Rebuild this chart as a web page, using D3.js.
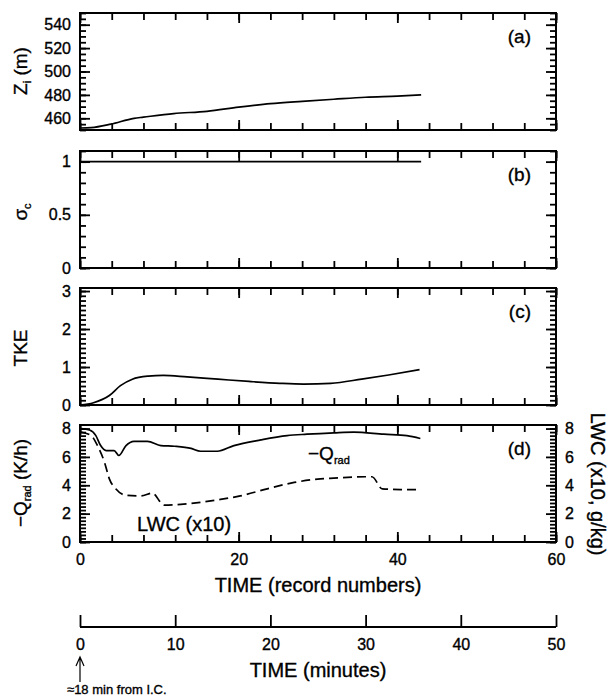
<!DOCTYPE html>
<html>
<head>
<meta charset="utf-8">
<script src="https://cdn.jsdelivr.net/npm/d3@7"></script>
<style>
  body { margin: 0; background: #fff; }
  svg { font-family: "Liberation Sans", Arial, Helvetica, sans-serif; }
  text { fill: #000; stroke: #000; stroke-width: 0.35px; }
  .tick text { font-size: 16px; }
</style>
</head>
<body>
<div id="chart"></div>
<script>
// time axis is in record numbers (1 record = 50 s)
const ziTime = [0, 1.4, 3.9, 6.8, 8, 11.8, 16, 20, 24, 28, 32, 36, 40, 43];
const ziValues = [451.7, 452, 455, 460, 461, 464, 466, 469.5, 472.5, 474.5, 476.3, 478, 479, 480];

const sigmaTime = [0, 43];
const sigmaValues = [1, 1];

const tkeTime = [0, 1.7, 3.7, 5.1, 6.6, 8.6, 10.5, 13.5, 17.4, 21.3, 25.2, 28.2, 31.6, 35.5, 38.9, 42.8];
const tkeValues = [0, 0.06, 0.25, 0.51, 0.68, 0.76, 0.78, 0.74, 0.68, 0.62, 0.57, 0.55, 0.57, 0.68, 0.79, 0.93];

const qradTime = [0.1, 1.2, 2.0, 2.6, 3.3, 4.3, 4.9, 5.8, 6.8, 8.5, 10.2, 11.9, 14.0, 15.2, 17.3, 19.4, 22.8, 26.1, 28.6, 32.0, 34.5, 38.3, 41.2, 42.9];
const qradValues = [8.0, 7.9, 7.5, 6.8, 6.45, 6.45, 6.1, 6.8, 7.1, 7.1, 6.8, 6.75, 6.6, 6.4, 6.4, 6.8, 7.2, 7.5, 7.6, 7.7, 7.75, 7.6, 7.5, 7.3];

const lwcTime = [0.1, 1.4, 2.2, 3.1, 3.7, 4.5, 5.8, 7.7, 9.1, 10.6, 12.7, 15.2, 17.7, 20.2, 23.6, 27.0, 30.3, 32.0, 36.2, 36.8, 38.1, 40.4, 42.7];
const lwcValues = [7.75, 7.5, 6.8, 5.6, 4.45, 3.75, 3.3, 3.25, 3.45, 2.6, 2.65, 2.8, 3.0, 3.25, 3.75, 4.2, 4.45, 4.5, 4.6, 4.6, 3.75, 3.7, 3.7];

const recordTicks = [0, 20, 40, 60];
const minuteTicks = [0, 10, 20, 30, 40, 50];
const ziTicks = [460, 480, 500, 520, 540];
const sigmaTicks = [0, 0.5, 1];
const tkeTicks = [0, 1, 2, 3];
const qradTicks = [0, 2, 4, 6, 8];
const lwcTicks = [0, 2, 4, 6, 8];

const width = 610, height = 698;
const margin = { left: 80, right: 54 };
const plotW = width - margin.left - margin.right;
const panelH = 117;
const xL = margin.left, xR = margin.left + plotW;
const tickW = 1.8;
const tickColor = '#000';

const svg = d3.select('#chart').append('svg')
  .attr('width', width).attr('height', height);

const x = d3.scaleLinear().domain([0, 60]).range([xL, xR]);
const xMinor = d3.range(0, 61, 4);

const panels = [
  { tag: '(a)', top: 13, domain: [450, 550], major: ziTicks, minor: d3.range(450, 551, 5),
    series: [{ t: ziTime, v: ziValues }] },
  { tag: '(b)', top: 151, domain: [0, 1.1], major: sigmaTicks, minor: d3.range(0, 1.101, 0.1),
    series: [{ t: sigmaTime, v: sigmaValues }] },
  { tag: '(c)', top: 288, domain: [0, 3.08], major: tkeTicks, minor: d3.range(0, 3.001, 0.125),
    series: [{ t: tkeTime, v: tkeValues }] },
  { tag: '(d)', top: 425, domain: [0, 8.25], major: qradTicks, minor: d3.range(0, 8.001, 0.25),
    series: [{ t: qradTime, v: qradValues }, { t: lwcTime, v: lwcValues, dash: '9,5' }] }
];

// inward tick marks, drawn with d3 axes and thickened
function tickAxis(g, axis, tx, ty) {
  const a = g.append('g').attr('transform', `translate(${tx},${ty})`).call(axis.tickFormat(''));
  a.select('.domain').remove();
  a.selectAll('.tick line').attr('stroke', tickColor).attr('stroke-width', tickW);
  a.selectAll('.tick text').remove();
}

panels.forEach(function(p, i) {
  const y = d3.scaleLinear().domain(p.domain).range([p.top + panelH, p.top]);
  const last = i === panels.length - 1;
  const bottom = p.top + panelH;
  const g = svg.append('g');

  tickAxis(g, d3.axisLeft(y).tickValues(p.minor).tickSize(-6), xL, 0);
  tickAxis(g, d3.axisRight(y).tickValues(p.minor).tickSize(-6), xR, 0);
  tickAxis(g, d3.axisLeft(y).tickValues(p.major).tickSize(-10), xL, 0);
  tickAxis(g, d3.axisRight(y).tickValues(p.major).tickSize(-10), xR, 0);
  tickAxis(g, d3.axisTop(x).tickValues(xMinor).tickSize(-7), 0, p.top);
  tickAxis(g, d3.axisBottom(x).tickValues(xMinor).tickSize(-7), 0, bottom);
  tickAxis(g, d3.axisTop(x).tickValues(recordTicks).tickSize(-10), 0, p.top);
  tickAxis(g, d3.axisBottom(x).tickValues(recordTicks).tickSize(-10), 0, bottom);

  g.append('rect')
    .attr('x', xL).attr('y', p.top)
    .attr('width', plotW).attr('height', panelH)
    .attr('fill', 'none').attr('stroke', '#000').attr('stroke-width', 2);

  // tick labels
  const labels = g.append('g');
  labels.append('g').attr('transform', `translate(${xL},0)`)
    .call(d3.axisLeft(y).tickValues(p.major).tickSize(0).tickPadding(9).tickFormat(d3.format('')));
  if (last) {
    labels.append('g').attr('transform', `translate(${xR},0)`)
      .call(d3.axisRight(y).tickValues(lwcTicks).tickSize(0).tickPadding(9).tickFormat(d3.format('')));
    labels.append('g').attr('transform', `translate(0,${bottom})`)
      .call(d3.axisBottom(x).tickValues(recordTicks).tickSize(0).tickPadding(12).tickFormat(d3.format('')));
  }
  labels.selectAll('.domain').remove();
  labels.selectAll('.tick line').remove();
  labels.selectAll('.tick text').attr('font-family', null).attr('font-size', null);

  const line = d3.line()
    .x(function(d) { return x(d[0]); })
    .y(function(d) { return y(d[1]); })
    .curve(d3.curveMonotoneX);

  p.series.forEach(function(s) {
    g.append('path')
      .datum(d3.zip(s.t, s.v))
      .attr('d', line)
      .attr('fill', 'none')
      .attr('stroke', '#000')
      .attr('stroke-width', 1.7)
      .attr('stroke-dasharray', s.dash || null);
  });

  g.append('text')
    .attr('x', 531).attr('y', p.top + 30)
    .attr('text-anchor', 'end').attr('font-size', 19)
    .text(p.tag);
});

// left axis titles (rotated)
function leftTitle(cy, build) {
  const t = svg.append('text')
    .attr('transform', `translate(27,${cy}) rotate(-90)`)
    .attr('text-anchor', 'middle').attr('font-size', 19);
  build(t);
}
leftTitle(71, function(t) {
  t.append('tspan').text('Z');
  t.append('tspan').attr('font-size', 11).attr('dy', 4).text('i');
  t.append('tspan').attr('dy', -4).text(' (m)');
});
leftTitle(212, function(t) {
  t.append('tspan').text('σ');
  t.append('tspan').attr('font-size', 11).attr('dy', 4).text('c');
});
leftTitle(348, function(t) { t.text('TKE'); });
leftTitle(483, function(t) {
  t.append('tspan').text('−Q');
  t.append('tspan').attr('font-size', 11).attr('dy', 4).text('rad');
  t.append('tspan').attr('dy', -4).text(' (K/h)');
});

// right axis title for LWC
svg.append('text')
  .attr('transform', `translate(591,484) rotate(90)`)
  .attr('text-anchor', 'middle').attr('font-size', 20)
  .text('LWC (x10, g/kg)');

// in-panel labels for panel (d)
const qLabel = svg.append('text').attr('x', 308).attr('y', 460).attr('font-size', 19);
qLabel.append('tspan').text('−Q');
qLabel.append('tspan').attr('font-size', 11).attr('dy', 4).text('rad');
svg.append('text').attr('x', 137).attr('y', 531).attr('font-size', 20).text('LWC (x10)');

svg.append('text')
  .attr('x', x(30)).attr('y', 592)
  .attr('text-anchor', 'middle').attr('font-size', 20)
  .text('TIME (record numbers)');

// second time axis in minutes
const xm = d3.scaleLinear().domain([0, 50]).range(x.range());
const mg = svg.append('g');
mg.append('path').attr('d', `M${xm(0)},627H${xm(50)}`)
  .attr('stroke', '#000').attr('stroke-width', 2).attr('fill', 'none');
tickAxis(mg, d3.axisBottom(xm).tickValues(minuteTicks).tickSize(-12), 0, 627);
const mAxis = mg.append('g').attr('transform', 'translate(0,627)')
  .call(d3.axisBottom(xm).tickValues(minuteTicks).tickSize(0).tickPadding(12));
mAxis.select('.domain').remove();
mAxis.selectAll('.tick line').remove();
mAxis.selectAll('.tick text').attr('font-family', null).attr('font-size', null);

svg.append('text')
  .attr('x', x(30)).attr('y', 677)
  .attr('text-anchor', 'middle').attr('font-size', 20)
  .text('TIME (minutes)');

// arrow marking the start
svg.append('path')
  .attr('d', `M${xm(0)},682V658M${xm(0) - 4},666L${xm(0)},657L${xm(0) + 4},666`)
  .attr('fill', 'none').attr('stroke', '#000').attr('stroke-width', 1.2);
svg.append('text')
  .attr('x', 67).attr('y', 694).attr('font-size', 13)
  .attr('stroke-width', 0.2)
  .text('≈18 min from I.C.');
</script>
</body>
</html>
